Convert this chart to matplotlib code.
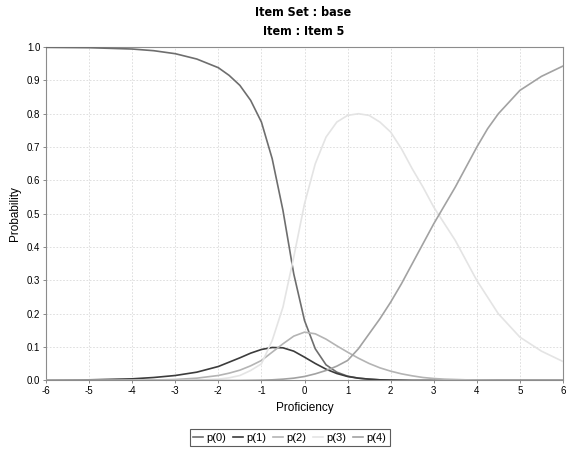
import matplotlib

matplotlib.use("Agg")
import matplotlib.pyplot as plt
from matplotlib.ticker import FormatStrFormatter, MultipleLocator

plt.rcParams["font.family"] = ["Liberation Sans", "DejaVu Sans"]
plt.rcParams["axes.unicode_minus"] = False

# proficiency grid and category response curves
theta = [-6, -5, -4, -3.5, -3, -2.5, -2, -1.75, -1.5, -1.25, -1, -0.75, -0.5,
         -0.25, 0, 0.25, 0.5, 0.75, 1, 1.25, 1.5, 1.75, 2, 2.25, 2.5, 2.75, 3,
         3.25, 3.5, 3.75, 4, 4.25, 4.5, 5, 5.5, 6]
p0 = [0.999, 0.998, 0.994, 0.989, 0.980, 0.964, 0.938, 0.915, 0.885, 0.84,
      0.775, 0.665, 0.51, 0.32, 0.18, 0.095, 0.047, 0.025, 0.013, 0.007,
      0.004, 0.002, 0.001, 0.0005, 0, 0, 0, 0, 0, 0, 0, 0, 0, 0, 0, 0]
p1 = [0.001, 0.002, 0.005, 0.009, 0.015, 0.025, 0.042, 0.055, 0.068, 0.082,
      0.093, 0.099, 0.098, 0.088, 0.07, 0.051, 0.034, 0.021, 0.012, 0.007,
      0.004, 0.002, 0.001, 0.0005, 0, 0, 0, 0, 0, 0, 0, 0, 0, 0, 0, 0]
p2 = [0, 0, 0.0005, 0.0015, 0.003, 0.007, 0.015, 0.022, 0.031, 0.044,
      0.06, 0.085, 0.11, 0.133, 0.145, 0.14, 0.124, 0.104, 0.085, 0.067,
      0.051, 0.038, 0.028, 0.02, 0.014, 0.009, 0.006, 0.004, 0.003, 0.002,
      0.001, 0.0005, 0, 0, 0, 0]
p3 = [0, 0, 0, 0, 0.0005, 0.0015, 0.004, 0.008, 0.015, 0.03,
      0.05, 0.12, 0.22, 0.37, 0.53, 0.65, 0.73, 0.775, 0.795, 0.80,
      0.795, 0.775, 0.745, 0.695, 0.635, 0.58, 0.52, 0.47, 0.42, 0.36,
      0.30, 0.25, 0.20, 0.13, 0.088, 0.057]
p4 = [0, 0, 0, 0, 0, 0, 0, 0, 0, 0.0005,
      0.001, 0.002, 0.004, 0.007, 0.012, 0.02, 0.03, 0.043, 0.06, 0.095,
      0.14, 0.185, 0.235, 0.29, 0.35, 0.41, 0.47, 0.525, 0.58, 0.64,
      0.70, 0.755, 0.80, 0.87, 0.912, 0.943]

series = [("p(0)", p0, "#6e6e6e"), ("p(1)", p1, "#3c3c3c"), ("p(2)", p2, "#b4b4b4"),
          ("p(3)", p3, "#e4e4e4"), ("p(4)", p4, "#a2a2a2")]

fig = plt.figure(figsize=(5.76, 4.57), dpi=100)
ax = fig.add_axes([0.0799, 0.1674, 0.8975, 0.7297])

for name, vals, col in series:
    ax.plot(theta, vals, color=col, linewidth=1.2, label=name, zorder=3)

ax.set_xlim(-6, 6)
ax.set_ylim(0, 1.0)
ax.xaxis.set_major_locator(MultipleLocator(1))
ax.yaxis.set_major_locator(MultipleLocator(0.1))
ax.yaxis.set_major_formatter(FormatStrFormatter("%.1f"))
ax.tick_params(labelsize=7, length=2, width=0.6, color="#777777", pad=2)
ax.grid(True, color="#d9d9d9", linestyle=(0, (2, 2)), linewidth=0.6, zorder=0)
for sp in ax.spines.values():
    sp.set_color("#8c8c8c")
    sp.set_linewidth(0.8)

ax.set_xlabel("Proficiency", fontsize=8.5, labelpad=4)
ax.set_ylabel("Probability", fontsize=8.5, labelpad=4)

# two-line bold title, condensed face if the font has one
title_font = dict(ha="center", va="center", fontsize=9, fontweight="bold",
                  fontstretch="condensed", family=["DejaVu Sans", "Liberation Sans"])
fig.text(0.527, 0.972, "Item Set : base", **title_font)
fig.text(0.527, 0.931, "Item : Item 5", **title_font)

leg = fig.legend(loc="center", bbox_to_anchor=(0.503, 0.042), ncol=5, fontsize=8,
                 frameon=True, fancybox=False, handlelength=0.9, handletextpad=0.3,
                 columnspacing=0.6, borderpad=0.3)
leg.get_frame().set_edgecolor("#333333")
leg.get_frame().set_linewidth(0.8)

fig.savefig("out.png", dpi=100)
